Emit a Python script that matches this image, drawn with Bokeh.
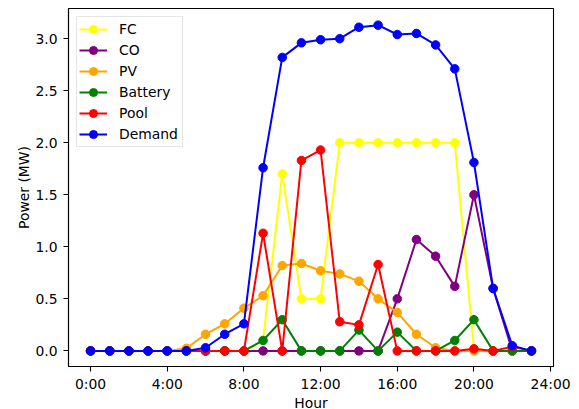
from bokeh.plotting import figure
from bokeh.models import Range1d, FixedTicker, Legend, LegendItem
from bokeh.embed import file_html
from bokeh.resources import INLINE

hours = list(range(24))
x_ticks = [0, 4, 8, 12, 16, 20, 24]
x_tick_labels = ["0:00", "4:00", "8:00", "12:00", "16:00", "20:00", "24:00"]
y_ticks = [0.0, 0.5, 1.0, 1.5, 2.0, 2.5, 3.0]
y_tick_labels = ["0.0", "0.5", "1.0", "1.5", "2.0", "2.5", "3.0"]

fc = [0, 0, 0, 0, 0, 0, 0, 0, 0, 0.10, 1.70, 0.50, 0.50, 2.0, 2.0, 2.0, 2.0, 2.0, 2.0, 2.0, 0.02, 0, 0, 0]
co = [0, 0, 0, 0, 0, 0, 0, 0, 0, 0, 0, 0, 0, 0, 0, 0, 0.50, 1.07, 0.91, 0.62, 1.50, 0.60, 0, 0]
pv = [0, 0, 0, 0, 0, 0.025, 0.16, 0.26, 0.41, 0.53, 0.82, 0.84, 0.77, 0.74, 0.67, 0.50, 0.37, 0.16, 0.03, 0, 0, 0, 0, 0]
battery = [0, 0, 0, 0, 0, 0, 0, 0, 0, 0.10, 0.30, 0, 0, 0, 0.20, 0, 0.18, 0, 0, 0.10, 0.30, 0, 0, 0]
pool = [0, 0, 0, 0, 0, 0, 0, 0, 0, 1.13, 0, 1.83, 1.93, 0.28, 0.25, 0.83, 0, 0, 0, 0, 0.02, 0, 0.04, 0]
demand = [0, 0, 0, 0, 0, 0, 0.03, 0.16, 0.26, 1.76, 2.82, 2.96, 2.99, 3.00, 3.11, 3.13, 3.04, 3.05, 2.94, 2.71, 1.81, 0.60, 0.05, 0]

series = [
    ("FC", fc, "yellow"),
    ("CO", co, "purple"),
    ("PV", pv, "orange"),
    ("Battery", battery, "green"),
    ("Pool", pool, "red"),
    ("Demand", demand, "blue"),
]

FONT = "DejaVu Sans"
FS = "13.9px"

p = figure(
    width=579, height=409,
    frame_width=485, frame_height=358,
    min_border_left=68, min_border_right=26,
    min_border_top=8, min_border_bottom=43,
    x_range=Range1d(-1.15, 24.15), y_range=Range1d(-0.15, 3.29),
    output_backend="svg", toolbar_location=None,
    background_fill_color="white", border_fill_color="white",
)

items = []
for name, vals, color in series:
    ln = p.line(hours, vals, line_color=color, line_width=2.0)
    sc = p.scatter(hours, vals, size=8.5, fill_color=color, line_color=color, line_width=1)
    items.append(LegendItem(label=name, renderers=[ln, sc]))

legend = Legend(
    items=items, location="top_left", margin=8,
    padding=2, spacing=1, glyph_width=28, glyph_height=20, label_height=20,
    label_standoff=12, label_width=61,
    label_text_font=FONT, label_text_font_size=FS, label_text_color="black",
    border_line_color="#cccccc", border_line_width=1,
    background_fill_color="white", background_fill_alpha=0.8,
)
p.add_layout(legend, "center")

p.xgrid.grid_line_color = None
p.ygrid.grid_line_color = None
p.outline_line_color = "black"
p.outline_line_width = 1.1

p.xaxis.ticker = FixedTicker(ticks=x_ticks)
p.xaxis.major_label_overrides = {t: l for t, l in zip(x_ticks, x_tick_labels)}
p.yaxis.ticker = FixedTicker(ticks=y_ticks)
p.yaxis.major_label_overrides = {t: l for t, l in zip(y_ticks, y_tick_labels)}

p.xaxis.axis_label = "Hour"
p.yaxis.axis_label = "Power (MW)"

for ax in (p.xaxis[0], p.yaxis[0]):
    ax.axis_line_color = "black"
    ax.axis_line_width = 1.1
    ax.major_tick_line_color = "black"
    ax.major_tick_line_width = 1.1
    ax.major_tick_out = 5
    ax.major_tick_in = 0
    ax.minor_tick_line_color = None
    ax.major_label_text_font = FONT
    ax.major_label_text_font_size = FS
    ax.major_label_text_color = "black"
    ax.axis_label_text_font = FONT
    ax.axis_label_text_font_size = FS
    ax.axis_label_text_font_style = "normal"
    ax.axis_label_text_color = "black"

p.xaxis[0].major_label_standoff = 4
p.xaxis[0].axis_label_standoff = 0
p.yaxis[0].major_label_standoff = 6
p.yaxis[0].axis_label_standoff = 0

open("out.html", "w").write(file_html(p, INLINE))
